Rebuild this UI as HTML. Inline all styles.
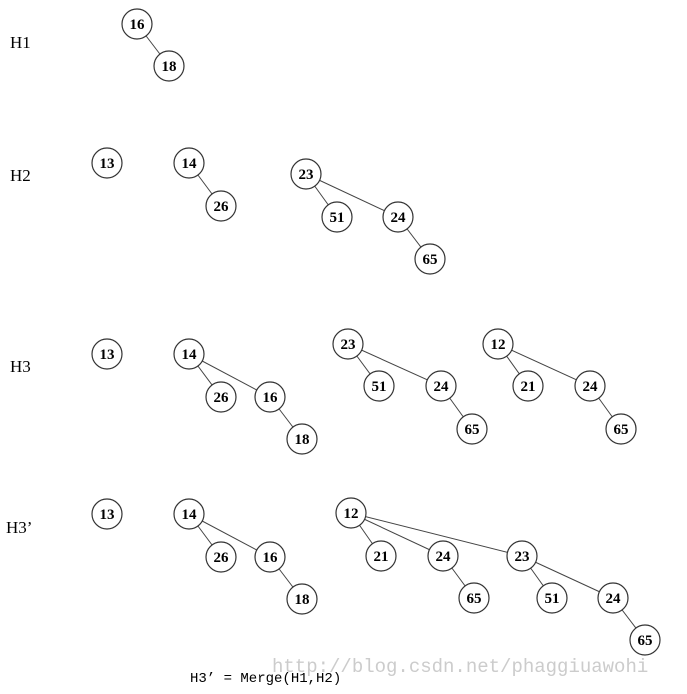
<!DOCTYPE html>
<html><head><meta charset="utf-8"><style>
body{margin:0;background:#fff}
svg{display:block}
text{font-family:"Liberation Serif",serif}
</style></head><body>
<svg id="s" width="687" height="694">
<text x="10" y="48" font-size="17">H1</text>
<text x="10" y="181" font-size="17">H2</text>
<text x="10" y="372" font-size="17">H3</text>
<text x="6" y="533" font-size="17">H3’</text>
<text x="272" y="672" font-size="19" fill="#ccc" style="font-family:'Liberation Mono',monospace">http://blog.csdn.net/phaggiuawohi</text>
<text x="190" y="682" font-size="14" style="font-family:'Liberation Mono',monospace">H3’ = Merge(H1,H2)</text>
</svg>
<script>
const labels=["16","18","13","14","26","23","51","24","65","13","14","26","16","18","23","51","24","65","12","21","24","65","13","14","26","16","18","12","21","24","65","23","51","24","65"];
const xs=[137,169,107,189,221,306,337,398,430,107,189,221,270,302,348,379,441,472,498,528,590,621,107,189,221,270,302,351,381,443,474,522,552,613,645];
const ys=[24,66,163,163,206,174,217,217,259,354,354,397,397,439,344,386,386,429,344,386,386,429,514,514,557,557,599,513,556,556,598,556,598,598,640];
const parents=[-1,0,-1,-1,3,-1,5,5,7,-1,-1,10,10,12,-1,14,14,16,-1,18,18,20,-1,-1,23,23,25,-1,27,27,29,27,31,31,33];
const s=document.getElementById('s');const NS="http://www.w3.org/2000/svg";
parents.forEach((p,i)=>{if(p<0)return;const l=document.createElementNS(NS,'line');


l.setAttribute('x1',xs[p]);l.setAttribute('y1',ys[p]);l.setAttribute('x2',xs[i]);l.setAttribute('y2',ys[i]);l.setAttribute('stroke','#444');l.setAttribute('stroke-width','1');s.appendChild(l);});
labels.forEach((t,i)=>{const g=document.createElementNS(NS,'g');


const c=document.createElementNS(NS,'circle');c.setAttribute('cx',xs[i]);c.setAttribute('cy',ys[i]);c.setAttribute('r',15);c.setAttribute('fill','#fff');c.setAttribute('stroke','#333');c.setAttribute('stroke-width','1.2');g.appendChild(c);
const tx=document.createElementNS(NS,'text');tx.setAttribute('x',xs[i]);tx.setAttribute('y',ys[i]+5);tx.setAttribute('text-anchor','middle');tx.setAttribute('font-size','15');tx.setAttribute('font-weight','bold');tx.textContent=t;g.appendChild(tx);s.appendChild(g);});
</script>
</body></html>
